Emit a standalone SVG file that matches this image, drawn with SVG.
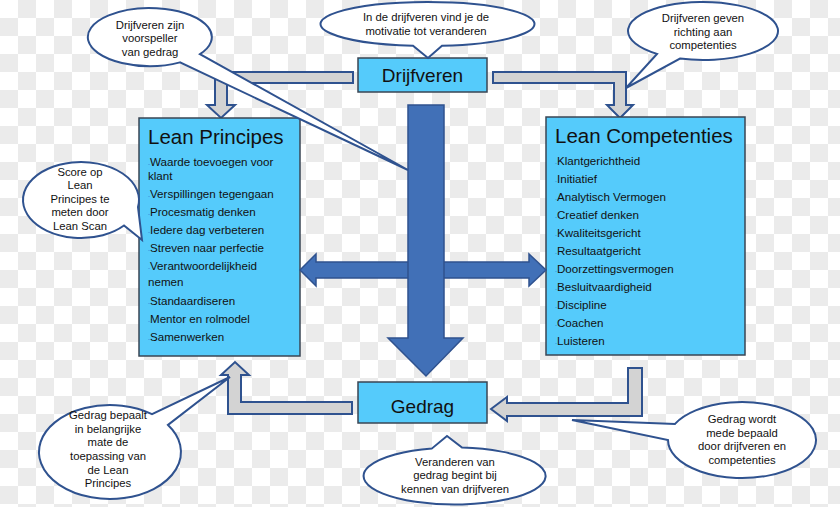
<svg xmlns="http://www.w3.org/2000/svg" width="840" height="507" viewBox="0 0 840 507">
<style>
.box{fill:#55cbfb;stroke:#3a4654;stroke-width:1.5}
.garrow{fill:#d3d3d3;stroke:#2f528f;stroke-width:2;stroke-linejoin:miter}
.barrow{fill:#4170b7;stroke:#2f528f;stroke-width:1.5}
.call{fill:#ffffff;stroke:#2f528f;stroke-width:2}
.ct{font-family:"Liberation Sans",Arial,sans-serif;font-size:11.3px;fill:#111;text-anchor:middle}
.title{font-family:"Liberation Sans",Arial,sans-serif;font-size:20.5px;fill:#111}
.big{font-family:"Liberation Sans",Arial,sans-serif;font-size:19px;fill:#111;text-anchor:middle}
.li{font-family:"Liberation Sans",Arial,sans-serif;font-size:11.6px;fill:#111}
.b{font-size:6px;fill:#2f6fd0}
</style>
<defs>
<pattern id="chk" width="36" height="36" patternUnits="userSpaceOnUse">
<rect width="36" height="36" fill="#ffffff"/>
<rect x="18" y="0" width="18" height="18" fill="#ebebeb"/>
<rect x="0" y="18" width="18" height="18" fill="#ebebeb"/>
</pattern>
</defs>
<rect width="840" height="507" fill="url(#chk)"/>

<g id="connectors">
<path class="garrow" d="M353,72 L215,72 L215,105 L207,105 L221,118 L235,105 L227,105 L227,83 L353,83 Z"/>
<path class="garrow" d="M493,72 L626,72 L626,105 L633,105 L620,118 L607,105 L614,105 L614,83 L493,83 Z"/>
<path class="garrow" d="M352,402 L241,402 L241,375 L249,375 L235,362 L221,375 L228,375 L228,414 L352,414 Z"/>
<path class="garrow" d="M491,409 L507,397 L507,403 L628,403 L628,368 L642,368 L642,416 L507,416 L507,421 Z"/>
</g>

<g id="drijfveren">
<rect class="box" x="358" y="58" width="129" height="34"/>
<text class="big" x="422.5" y="82">Drijfveren</text>
</g>

<g id="gedrag">
<rect class="box" x="358" y="382" width="129" height="41"/>
<text class="big" x="422.5" y="413">Gedrag</text>
</g>

<g id="lean-principes">
<rect class="box" x="139" y="118" width="161" height="238"/>
<text class="title" x="148" y="144">Lean Principes</text>
<text class="li" x="148" y="166"><tspan class="b">-</tspan>Waarde toevoegen voor</text>
<text class="li" x="148" y="180">klant</text>
<text class="li" x="148" y="198"><tspan class="b">-</tspan>Verspillingen tegengaan</text>
<text class="li" x="148" y="216"><tspan class="b">-</tspan>Procesmatig denken</text>
<text class="li" x="148" y="234"><tspan class="b">-</tspan>Iedere dag verbeteren</text>
<text class="li" x="148" y="252"><tspan class="b">-</tspan>Streven naar perfectie</text>
<text class="li" x="148" y="270"><tspan class="b">-</tspan>Verantwoordelijkheid</text>
<text class="li" x="148" y="286">nemen</text>
<text class="li" x="148" y="305"><tspan class="b">-</tspan>Standaardiseren</text>
<text class="li" x="148" y="323"><tspan class="b">-</tspan>Mentor en rolmodel</text>
<text class="li" x="148" y="341"><tspan class="b">-</tspan>Samenwerken</text>
</g>

<g id="lean-competenties">
<rect class="box" x="546" y="117" width="199" height="238"/>
<text class="title" x="555" y="143">Lean Competenties</text>
<text class="li" x="555" y="165"><tspan class="b">-</tspan>Klantgerichtheid</text>
<text class="li" x="555" y="183"><tspan class="b">-</tspan>Initiatief</text>
<text class="li" x="555" y="201"><tspan class="b">-</tspan>Analytisch Vermogen</text>
<text class="li" x="555" y="219"><tspan class="b">-</tspan>Creatief denken</text>
<text class="li" x="555" y="237"><tspan class="b">-</tspan>Kwaliteitsgericht</text>
<text class="li" x="555" y="255"><tspan class="b">-</tspan>Resultaatgericht</text>
<text class="li" x="555" y="273"><tspan class="b">-</tspan>Doorzettingsvermogen</text>
<text class="li" x="555" y="291"><tspan class="b">-</tspan>Besluitvaardigheid</text>
<text class="li" x="555" y="309"><tspan class="b">-</tspan>Discipline</text>
<text class="li" x="555" y="327"><tspan class="b">-</tspan>Coachen</text>
<text class="li" x="555" y="345"><tspan class="b">-</tspan>Luisteren</text>
</g>

<g id="blue-arrows">
<path class="barrow" d="M300,270 L316,254 L316,262 L529,262 L529,254 L546,270 L529,286 L529,278 L316,278 L316,286 Z"/>
<path class="barrow" d="M408,105 L444,105 L444,338 L463,338 L426,376 L388,338 L408,338 Z"/>
</g>

<g id="callout-voorspeller">
<path class="call" d="M180,62.4 A62,29 0 1 1 200,54.1 L408,170 Z"/>
<text class="ct" x="150" y="28.5">Drijfveren zijn</text>
<text class="ct" x="150" y="42">voorspeller</text>
<text class="ct" x="150" y="55.5">van gedrag</text>
</g>

<g id="callout-motivatie">
<path class="call" d="M413,45.8 A107,22 0 1 1 442,45.8 L428,58 Z"/>
<text class="ct" x="426" y="21">In de drijfveren vind je de</text>
<text class="ct" x="426" y="35">motivatie tot veranderen</text>
</g>

<g id="callout-richting">
<path class="call" d="M657,53.9 A75,29 0 1 1 680,58.6 L626,88 Z"/>
<text class="ct" x="703" y="22">Drijfveren geven</text>
<text class="ct" x="703" y="35.5">richting aan</text>
<text class="ct" x="703" y="49">competenties</text>
</g>

<g id="callout-score">
<path class="call" d="M124,225.5 A58,38 0 1 1 138,207 L142,240 Z"/>
<text class="ct" x="80" y="175.5">Score op</text>
<text class="ct" x="80" y="189">Lean</text>
<text class="ct" x="80" y="202.5">Principes te</text>
<text class="ct" x="80" y="216">meten door</text>
<text class="ct" x="80" y="229.5">Lean Scan</text>
</g>

<g id="callout-toepassing">
<path class="call" d="M168,424.9 A71,47 0 1 1 152,414.1 L230,377 Z"/>
<text class="ct" x="108" y="419">Gedrag bepaalt</text>
<text class="ct" x="108" y="432.7">in belangrijke</text>
<text class="ct" x="108" y="446.4">mate de</text>
<text class="ct" x="108" y="460">toepassing van</text>
<text class="ct" x="108" y="473.7">de Lean</text>
<text class="ct" x="108" y="487.4">Principes</text>
</g>

<g id="callout-veranderen">
<path class="call" d="M462,447.6 A91,28.5 0 1 1 432,448.4 L447,436 Z"/>
<text class="ct" x="455" y="466">Veranderen van</text>
<text class="ct" x="455" y="479.3">gedrag begint bij</text>
<text class="ct" x="455" y="492.7">kennen van drijfveren</text>
</g>

<g id="callout-bepaald">
<path class="call" d="M675,423.9 A74,38 0 1 1 668,440 L572,420 Z"/>
<text class="ct" x="742" y="422.7">Gedrag wordt</text>
<text class="ct" x="742" y="436.5">mede bepaald</text>
<text class="ct" x="742" y="450">door drijfveren en</text>
<text class="ct" x="742" y="463.5">competenties</text>
</g>
</svg>
